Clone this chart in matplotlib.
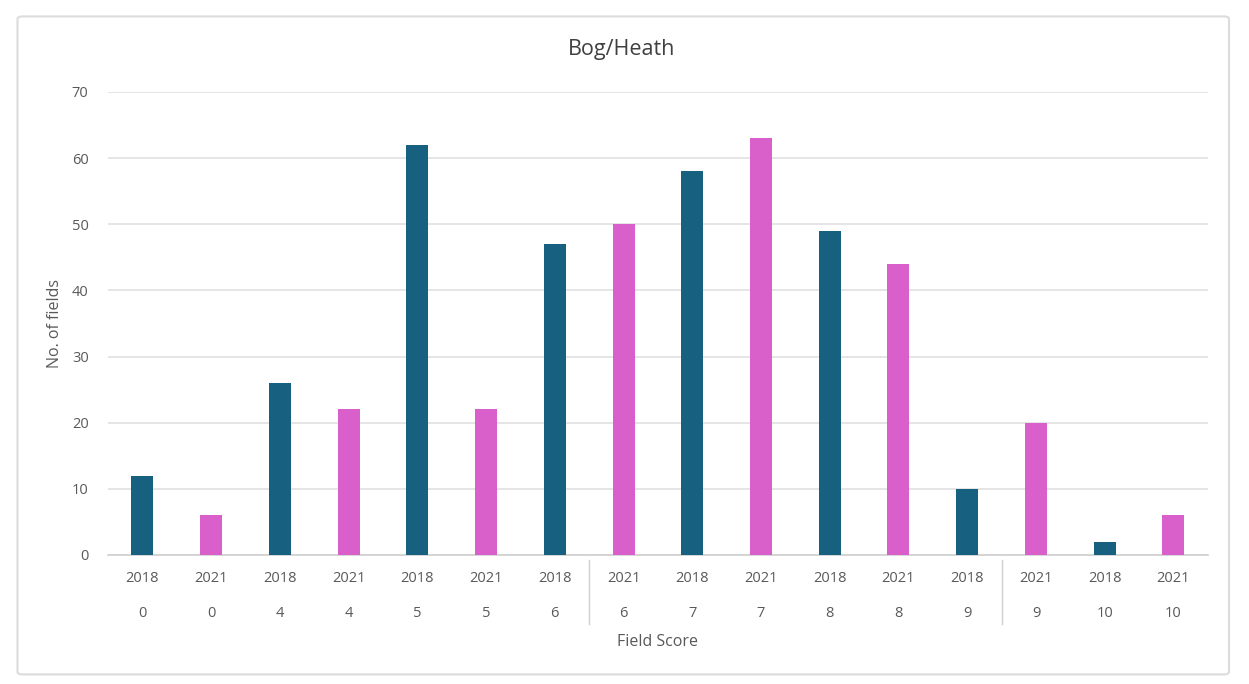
import matplotlib.pyplot as plt
from matplotlib.patches import FancyBboxPatch
from matplotlib.transforms import blended_transform_factory

plt.rcParams['font.family'] = ['Open Sans', 'DejaVu Sans']

# field counts per score, alternating survey years
years = ['2018', '2021'] * 8
scores = ['0', '0', '4', '4', '5', '5', '6', '6', '7', '7', '8', '8', '9', '9', '10', '10']
counts = [12, 6, 26, 22, 62, 22, 47, 50, 58, 63, 49, 44, 10, 20, 2, 6]
year_colors = {'2018': '#17607f', '2021': '#d95fcb'}

fig = plt.figure(figsize=(12.49, 6.84), dpi=100)
fig.patch.set_facecolor('white')

# light frame round the chart
frame = FancyBboxPatch((0.014, 0.014), 0.97, 0.962, boxstyle='round,pad=0,rounding_size=0.004',
                       transform=fig.transFigure, facecolor='none', edgecolor='#dcdcdc', lw=1.5)
fig.patches.append(frame)

ax = fig.add_axes([0.0865, 0.1886, 0.8805, 0.677])
ax.patch.set_alpha(0)
x = list(range(len(counts)))
ax.bar(x, counts, width=0.32, color=[year_colors[y] for y in years], zorder=3)

ax.set_xlim(-0.5, len(counts) - 0.5)
ax.set_ylim(0, 70)
ax.set_yticks(range(0, 71, 10))
ax.yaxis.grid(True, color='#e0e0e0', lw=1.2, zorder=0)
ax.set_axisbelow(True)
ax.tick_params(axis='y', length=0, labelsize=10.5, labelcolor='#595959', pad=14)
ax.set_xticks([])
for side in ['top', 'right', 'left']:
    ax.spines[side].set_visible(False)
ax.spines['bottom'].set_color('#d0d0d0')
ax.spines['bottom'].set_linewidth(1.2)

# two-row category labels: year above score
trans = blended_transform_factory(ax.transData, ax.transAxes)
for i in x:
    ax.text(i, -0.05, years[i], transform=trans, ha='center', va='center', fontsize=10.5, color='#595959')
    ax.text(i, -0.127, scores[i], transform=trans, ha='center', va='center', fontsize=10.5, color='#595959')
for sep in [6.5, 12.5]:
    ax.plot([sep, sep], [-0.01, -0.15], transform=trans, color='#d0d0d0', lw=1, clip_on=False)

ax.text(0.5, -0.188, 'Field Score', transform=ax.transAxes, ha='center', va='center',
        fontsize=11.5, color='#595959')
ax.set_ylabel('No. of fields', fontsize=11.5, color='#595959', labelpad=6)
fig.text(0.498, 0.927, 'Bog/Heath', ha='center', va='center', fontsize=15.5, color='#404040')

fig.savefig('out.png', dpi=100)
